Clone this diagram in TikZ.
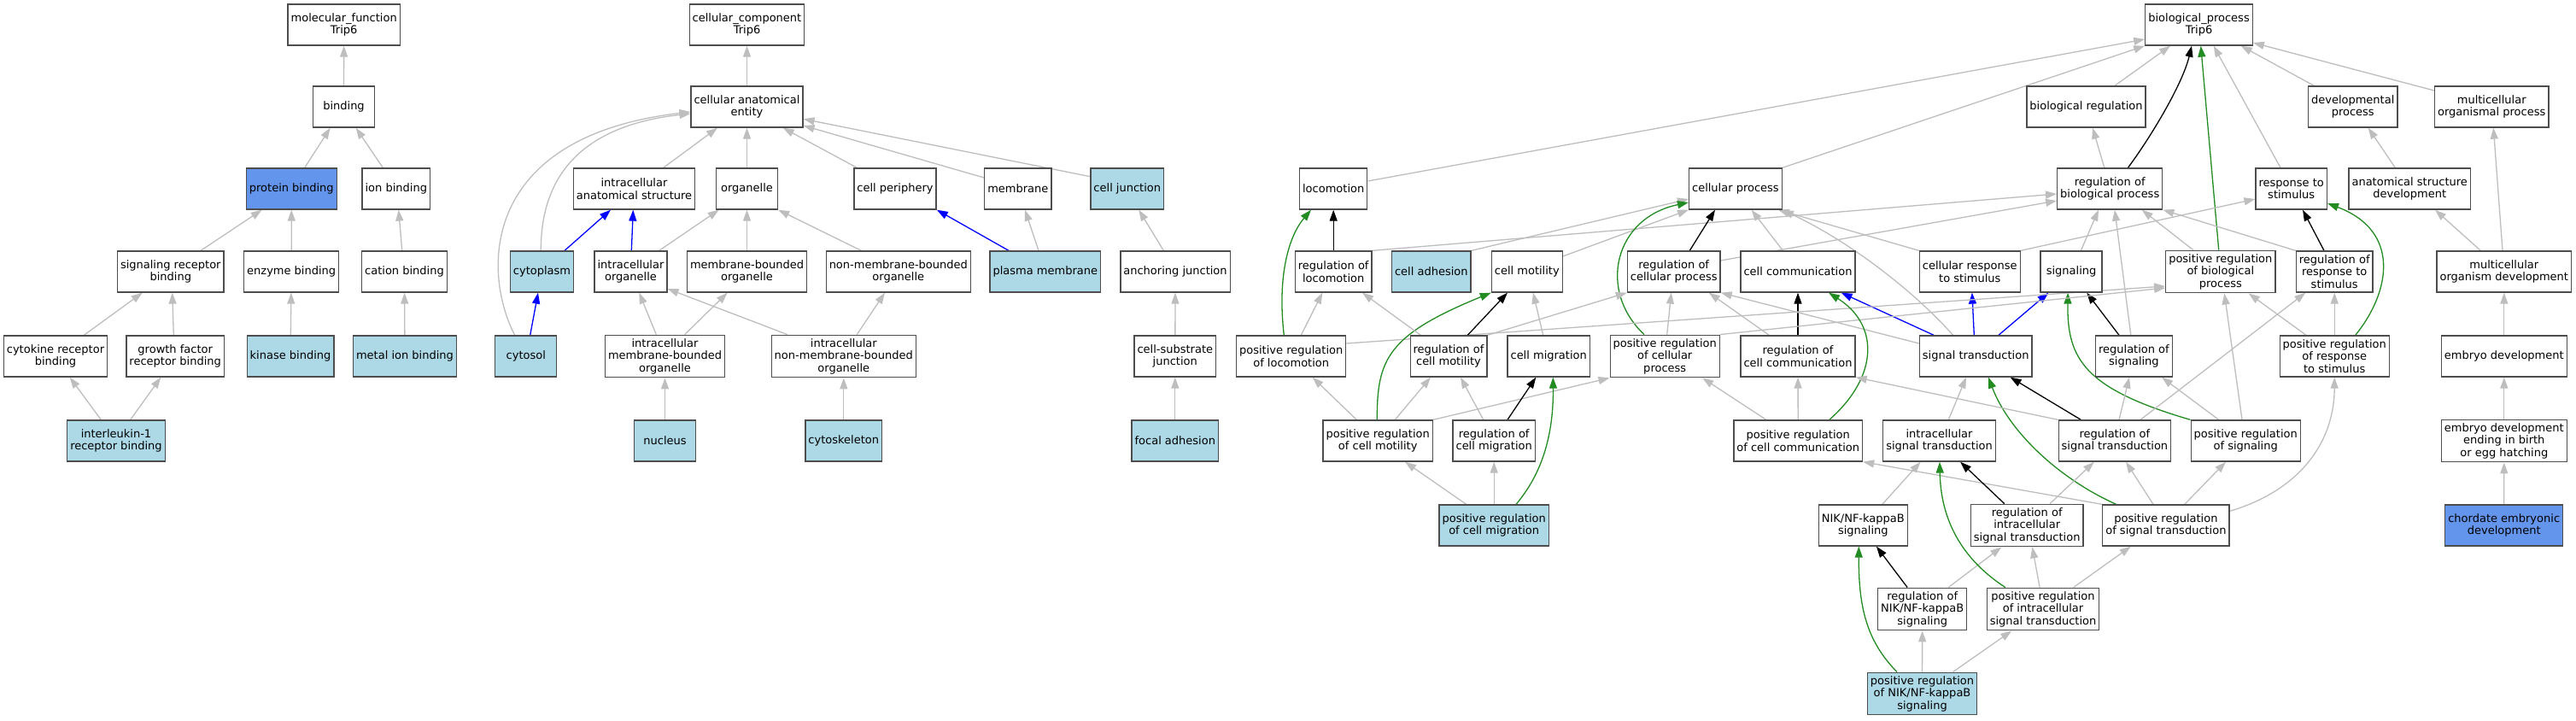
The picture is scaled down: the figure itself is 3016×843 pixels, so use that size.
\documentclass[tikz,border=0pt]{standalone}
\usepackage{fontspec}
\setmainfont{DejaVu Sans}
\usetikzlibrary{arrows.meta,backgrounds}
\definecolor{edgegray}{HTML}{BEBEBE}
\definecolor{boxgray}{HTML}{4D4D4D}
\definecolor{seenblue}{HTML}{ADD8E6}
\definecolor{coreblue}{HTML}{6495ED}
\definecolor{posgreen}{HTML}{228B22}

\begin{document}
\begin{tikzpicture}[x=1pt,y=-1pt,
    term/.style={draw=boxgray,line width=1.3pt,fill=white,align=center,minimum width=72pt,minimum height=48pt,inner xsep=3.5pt,inner ysep=4pt,font=\fontsize{13}{14.5}\selectfont},
    seen/.style={term,fill=seenblue},
    core/.style={term,fill=coreblue},
    isa/.style={draw=edgegray,line width=1.3pt,-{Triangle[length=13pt,width=9pt]}},
    reg/.style={isa,draw=black},
    partof/.style={isa,draw=blue},
    posreg/.style={isa,draw=posgreen}]
    \useasboundingbox (0,0) rectangle (3016,843);

    \node[term] (mf) at (402.7,29) {molecular\_function\\Trip6};
    \node[term] (bind) at (402.5,125) {binding};
    \node[core] (protbind) at (341.3,221) {protein binding};
    \node[term] (ionbind) at (463.8,221) {ion binding};
    \node[term] (sigrecbind) at (199.8,318) {signaling receptor\\binding};
    \node[term] (enzbind) at (341.2,318) {enzyme binding};
    \node[term] (catbind) at (473.5,318) {cation binding};
    \node[term] (cytorecbind) at (65,417) {cytokine receptor\\binding};
    \node[term] (gfrecbind) at (205.2,417) {growth factor\\receptor binding};
    \node[seen] (kinbind) at (340,417) {kinase binding};
    \node[seen] (metalbind) at (474,417) {metal ion binding};
    \node[seen] (il1) at (136,516) {interleukin-1\\receptor binding};

    \node[term] (cc) at (874.5,29) {cellular\_component\\Trip6};
    \node[term] (cae) at (874.5,125) {cellular anatomical\\entity};
    \node[term] (ias) at (742.5,221) {intracellular\\anatomical structure};
    \node[term] (organelle) at (874.5,221) {organelle};
    \node[term] (cellper) at (1048,221) {cell periphery};
    \node[term] (membrane) at (1191.8,221) {membrane};
    \node[seen] (celljunc) at (1319.8,221) {cell junction};
    \node[seen] (cytoplasm) at (634.5,318) {cytoplasm};
    \node[term] (intorg) at (738.5,318) {intracellular\\organelle};
    \node[term] (mbo) at (874.5,318) {membrane-bounded\\organelle};
    \node[term] (nmbo) at (1051.8,318) {non-membrane-bounded\\organelle};
    \node[seen] (plasmamem) at (1223.8,318) {plasma membrane};
    \node[term] (anchjunc) at (1376,318) {anchoring junction};
    \node[seen] (cytosol) at (615.8,417) {cytosol};
    \node[term] (imbo) at (778.5,417) {intracellular\\membrane-bounded\\organelle};
    \node[term] (inmbo) at (987.8,417) {intracellular\\non-membrane-bounded\\organelle};
    \node[term] (cellsub) at (1375.8,417) {cell-substrate\\junction};
    \node[seen] (nucleus) at (778.5,516) {nucleus};
    \node[seen] (cytoskel) at (987.8,516) {cytoskeleton};
    \node[seen] (focal) at (1375.8,516) {focal adhesion};

    \node[term] (bp) at (2574.5,29) {biological\_process\\Trip6};
    \node[term] (bioreg) at (2442.5,125) {biological regulation};
    \node[term] (devproc) at (2754.7,125) {developmental\\process};
    \node[term] (mcop) at (2917.2,125) {multicellular\\organismal process};
    \node[term] (locomotion) at (1561.2,221) {locomotion};
    \node[term] (cellproc) at (2031.9,221) {cellular process};
    \node[term] (rbp) at (2470.2,221) {regulation of\\biological process};
    \node[term] (resp) at (2682.7,221) {response to\\stimulus};
    \node[term] (asd) at (2821.2,221) {anatomical structure\\development};
    \node[term] (regloc) at (1561.2,318) {regulation of\\locomotion};
    \node[seen] (celladh) at (1675.8,318) {cell adhesion};
    \node[term] (cellmot) at (1787.8,318) {cell motility};
    \node[term] (rcp) at (1959.7,318) {regulation of\\cellular process};
    \node[term] (cellcomm) at (2105,318) {cell communication};
    \node[term] (crs) at (2306.3,318) {cellular response\\to stimulus};
    \node[term] (signaling) at (2425.1,318) {signaling};
    \node[term] (prbp) at (2599.8,318) {positive regulation\\of biological\\process};
    \node[term] (rrs) at (2733.2,318) {regulation of\\response to\\stimulus};
    \node[term] (mcod) at (2931.8,318) {multicellular\\organism development};
    \node[term] (prloc) at (1511.7,417) {positive regulation\\of locomotion};
    \node[term] (rcm) at (1696,417) {regulation of\\cell motility};
    \node[term] (cellmig) at (1813.2,417) {cell migration};
    \node[term] (pcp) at (1949.2,417) {positive regulation\\of cellular\\process};
    \node[term] (rcc) at (2105,417) {regulation of\\cell communication};
    \node[term] (st) at (2313.2,417) {signal transduction};
    \node[term] (rsig) at (2498.4,417) {regulation of\\signaling};
    \node[term] (prrs) at (2733.2,417) {positive regulation\\of response\\to stimulus};
    \node[term] (embdev) at (2931.8,417) {embryo development};
    \node[term] (prcm) at (1613.2,516) {positive regulation\\of cell motility};
    \node[term] (rcmig) at (1749.2,516) {regulation of\\cell migration};
    \node[term] (prcc) at (2105.2,516) {positive regulation\\of cell communication};
    \node[term] (ist) at (2270.5,516) {intracellular\\signal transduction};
    \node[term] (rst) at (2475.9,516) {regulation of\\signal transduction};
    \node[term] (prsig) at (2629.2,516) {positive regulation\\of signaling};
    \node[term] (embbirth) at (2931.8,516) {embryo development\\ending in birth\\or egg hatching};
    \node[seen] (prcmig) at (1749.2,615) {positive regulation\\of cell migration};
    \node[term] (nik) at (2181.3,615) {NIK/NF-kappaB\\signaling};
    \node[term] (rist) at (2373.2,615) {regulation of\\intracellular\\signal transduction};
    \node[term] (prst) at (2535.9,615) {positive regulation\\of signal transduction};
    \node[core] (chordate) at (2931.7,615) {chordate embryonic\\development};
    \node[term] (rnik) at (2250.7,713) {regulation of\\NIK/NF-kappaB\\signaling};
    \node[term] (prist) at (2392,713) {positive regulation\\of intracellular\\signal transduction};
    \node[seen] (prnik) at (2250.5,812) {positive regulation\\of NIK/NF-kappaB\\signaling};

    \begin{scope}[on background layer]
    \fill[white] (0,0) rectangle (3016,843);

    \draw[isa] (bind) -- (mf);
    \draw[isa] ([xshift=15.4pt]protbind.north) -- ([xshift=-15.8pt]bind.south);
    \draw[isa] ([xshift=-15.5pt]ionbind.north) -- ([xshift=14.2pt]bind.south);
    \draw[isa] ([xshift=35.2pt]sigrecbind.north) -- ([xshift=-34.6pt]protbind.south);
    \draw[isa] (enzbind) -- (protbind);
    \draw[isa] ([xshift=-2.8pt]catbind.north) -- ([xshift=2.9pt]ionbind.south);
    \draw[isa] ([xshift=33.3pt]cytorecbind.north) -- ([xshift=-33.1pt]sigrecbind.south);
    \draw[isa] ([xshift=-1.9pt]gfrecbind.north) -- ([xshift=1.9pt]sigrecbind.south);
    \draw[isa] (kinbind) -- (enzbind);
    \draw[isa] (metalbind) -- (catbind);
    \draw[isa] ([xshift=-17.7pt]il1.north) -- ([xshift=16.7pt]cytorecbind.south);
    \draw[isa] ([xshift=16.7pt]il1.north) -- ([xshift=-16.9pt]gfrecbind.south);

    \draw[isa] (cae) -- (cc);
    \draw[isa] ([xshift=34.2pt]ias.north) -- ([xshift=-34.5pt]cae.south);
    \draw[isa] (organelle) -- (cae);
    \draw[isa] ([xshift=-44.7pt]cellper.north) -- ([xshift=42.2pt]cae.south);
    \draw[isa] ([yshift=13pt]membrane.west) -- ([yshift=-22pt]cae.east);
    \draw[isa] ([yshift=14.3pt]celljunc.west) -- ([yshift=-14.3pt]cae.east);
    \draw[isa] ([xshift=-1.2pt]cytoplasm.north) .. controls (633,190) and (700,145) .. ([yshift=-8pt]cae.west);
    \draw[isa] ([xshift=-13.1pt]cytosol.north) .. controls (565,320) and (560,160) .. ([yshift=-6pt]cae.west);
    \draw[partof] ([xshift=26.5pt]cytoplasm.north) -- ([xshift=-27.5pt]ias.south);
    \draw[partof] ([xshift=0.8pt]intorg.north) -- ([xshift=-1.2pt]ias.south);
    \draw[isa] ([xshift=33.2pt]intorg.north) -- ([xshift=-32.8pt]organelle.south);
    \draw[isa] (mbo) -- (organelle);
    \draw[isa] ([xshift=-43.5pt]nmbo.north) -- (organelle.south east);
    \draw[partof] ([xshift=4.9pt]cytosol.north) -- ([xshift=-4.5pt]cytoplasm.south);
    \draw[isa] ([xshift=-10.2pt]imbo.north) -- ([xshift=9.8pt]intorg.south);
    \draw[isa] ([xshift=23.2pt]imbo.north) -- ([xshift=-22.8pt]mbo.south);
    \draw[isa] ([xshift=-66.1pt]inmbo.north) -- ([yshift=-20pt]intorg.east);
    \draw[isa] ([xshift=15.5pt]inmbo.north) -- ([xshift=-15.8pt]nmbo.south);
    \draw[isa] (nucleus) -- (imbo);
    \draw[isa] (cytoskel) -- (inmbo);
    \draw[partof] ([xshift=-42.8pt]plasmamem.north) -- (cellper.south east);
    \draw[isa] ([xshift=-7.8pt]plasmamem.north) -- ([xshift=8.2pt]membrane.south);
    \draw[isa] ([xshift=-13.7pt]anchjunc.north) -- ([xshift=13.5pt]celljunc.south);
    \draw[isa] (cellsub) -- (anchjunc);
    \draw[isa] (focal) -- (cellsub);

    \draw[isa] ([yshift=9pt]locomotion.east) -- ([yshift=-17pt]bp.west);
    \draw[isa] (cellproc.north east) -- (bp.south west);
    \draw[isa] ([xshift=33.4pt]bioreg.north) -- ([xshift=-33.5pt]bp.south);
    \draw[reg] ([xshift=21.2pt]rbp.north) .. controls (2515,165) and (2555,100) .. ([xshift=-8.5pt]bp.south);
    \draw[posreg] ([xshift=-2.1pt]prbp.north) -- ([xshift=2.2pt]bp.south);
    \draw[isa] ([xshift=-12.7pt]resp.north) -- ([xshift=17.2pt]bp.south);
    \draw[isa] ([xshift=-45.4pt]devproc.north) -- ([xshift=49.2pt]bp.south);
    \draw[isa] ([yshift=19pt]mcop.west) -- ([yshift=-21pt]bp.east);
    \draw[isa] ([xshift=-6.4pt]rbp.north) -- ([xshift=7.5pt]bioreg.south);
    \draw[reg] (regloc) -- (locomotion);
    \draw[posreg] ([xshift=-8.4pt]prloc.north) .. controls (1495,320) and (1510,275) .. ([xshift=-26.2pt]locomotion.south);
    \draw[isa] ([xshift=11.6pt]prloc.north) -- ([xshift=-12.9pt]regloc.south);
    \draw[isa] (regloc.north east) -- ([yshift=-6pt]rbp.west);
    \draw[isa] (celladh.north east) -- ([yshift=-12pt]cellproc.west);
    \draw[isa] ([yshift=18pt]cellmot.east) -- (cellproc.south west);
    \draw[posreg] ([xshift=-24.2pt]pcp.north) .. controls (1870,340) and (1890,255) .. ([yshift=-16pt]cellproc.west);
    \draw[reg] ([xshift=18.6pt]rcp.north) -- ([xshift=-23.9pt]cellproc.south);
    \draw[isa] ([yshift=13pt]rcp.east) -- ([yshift=-14pt]rbp.west);
    \draw[isa] ([xshift=-17.6pt]cellcomm.north) -- ([xshift=18.7pt]cellproc.south);
    \draw[isa] ([xshift=-26.7pt]st.north) .. controls (2245,345) and (2170,285) .. (cellproc.south east);
    \draw[isa] (crs.north west) -- ([xshift=-5pt]cellproc.south east);
    \draw[isa] (crs.north east) -- ([yshift=-12pt]resp.west);
    \draw[isa] ([xshift=11.2pt]signaling.north) -- ([xshift=-13.2pt]rbp.south);
    \draw[isa] ([xshift=-3.6pt]rsig.north) -- ([xshift=5.7pt]rbp.south);
    \draw[isa] ([xshift=-32.1pt]prbp.north) -- ([xshift=37.5pt]rbp.south);
    \draw[isa] (rrs.north west) -- (rbp.south east);
    \draw[reg] (rcc) -- (cellcomm);
    \draw[isa] ([xshift=-33.7pt]rcc.north) -- ([xshift=41pt]rcp.south);
    \draw[isa] ([yshift=15pt]st.west) -- (rcp.south east);
    \draw[partof] ([xshift=-49.1pt]st.north) -- ([xshift=50.6pt]cellcomm.south);
    \draw[partof] ([xshift=-1.9pt]st.north) -- ([xshift=2.6pt]crs.south);
    \draw[partof] ([xshift=26.7pt]st.north) -- ([xshift=-26.7pt]signaling.south);
    \draw[reg] ([xshift=-17.4pt]rsig.north) -- ([xshift=18.1pt]signaling.south);
    \draw[posreg] (prsig.north west) .. controls (2440,455) and (2420,420) .. ([xshift=-4pt]signaling.south);
    \draw[isa] ([xshift=2.5pt]pcp.north) -- ([xshift=-3pt]rcp.south);
    \draw[isa] (pcp.north east) -- ([yshift=-19pt]prbp.west);
    \draw[isa] ([yshift=15pt]prloc.east) -- ([yshift=-17pt]prbp.west);
    \draw[reg] ([xshift=22.3pt]rcm.north) -- ([xshift=-22.8pt]cellmot.south);
    \draw[posreg] ([xshift=-0.9pt]prcm.north) .. controls (1612,420) and (1625,392) .. (cellmot.south west);
    \draw[isa] ([xshift=-6.5pt]cellmig.north) -- ([xshift=7.2pt]cellmot.south);
    \draw[isa] ([xshift=-32.7pt]rcm.north) -- ([xshift=33.8pt]regloc.south);
    \draw[isa] (rcm.north east) -- (rcp.south west);
    \draw[isa] ([xshift=-24.9pt]prcm.north) -- ([xshift=25pt]prloc.south);
    \draw[isa] ([xshift=20.1pt]prcm.north) -- ([xshift=-21pt]rcm.south);
    \draw[isa] (prcm.north east) -- (pcp.south west);
    \draw[reg] ([xshift=15.8pt]rcmig.north) -- ([xshift=-14.9pt]cellmig.south);
    \draw[isa] ([xshift=-12.5pt]rcmig.north) -- ([xshift=14pt]rcm.south);
    \draw[isa] ([xshift=-32.5pt]prcmig.north) -- ([xshift=31.8pt]prcm.south);
    \draw[isa] (prcmig) -- (rcmig);
    \draw[posreg] ([xshift=25.8pt]prcmig.north) .. controls (1805,555) and (1819,510) .. ([xshift=5.1pt]cellmig.south);
    \draw[isa] (prcc) -- (rcc);
    \draw[posreg] ([xshift=36.6pt]prcc.north) .. controls (2200,440) and (2200,380) .. ([xshift=36pt]cellcomm.south);
    \draw[isa] ([xshift=-37.4pt]prcc.north) -- ([xshift=44pt]pcp.south);
    \draw[isa] ([xshift=10.8pt]ist.north) -- ([xshift=-11.2pt]st.south);
    \draw[posreg] ([xshift=-58.3pt]prst.north) .. controls (2410,560) and (2352,505) .. ([xshift=14.8pt]st.south);
    \draw[reg] ([xshift=-39.6pt]rst.north) -- ([xshift=40.4pt]st.south);
    \draw[isa] (rst.north west) -- (rcc.south east);
    \draw[isa] ([xshift=5.1pt]rst.north) -- ([xshift=-5.4pt]rsig.south);
    \draw[isa] ([xshift=30.1pt]rst.north) -- ([xshift=-33.9pt]rrs.south);
    \draw[isa] ([xshift=-31.5pt]prsig.north) -- ([xshift=32.6pt]rsig.south);
    \draw[isa] ([xshift=-4.2pt]prsig.north) -- ([xshift=4.5pt]prbp.south);
    \draw[posreg] ([xshift=24.5pt]prrs.north) .. controls (2800,340) and (2810,270) .. ([yshift=-17pt]resp.east);
    \draw[isa] (prrs) -- (rrs);
    \draw[isa] ([xshift=-33.2pt]prrs.north) -- ([xshift=32.9pt]prbp.south);
    \draw[reg] ([xshift=-12.2pt]rrs.north) -- ([xshift=13.3pt]resp.south);
    \draw[isa] ([xshift=-14.9pt]prst.north) -- ([xshift=13.1pt]rst.south);
    \draw[isa] ([xshift=21.8pt]prst.north) -- ([xshift=-23.2pt]prsig.south);
    \draw[isa] ([yshift=16.7pt]prst.east) .. controls (2690,575) and (2733,520) .. (prrs.south);
    \draw[isa] (prst.north west) -- (prcc.south east);
    \draw[reg] ([xshift=-26.5pt]rist.north) -- ([xshift=24.6pt]ist.south);
    \draw[isa] ([xshift=26.9pt]rist.north) -- ([xshift=-24.1pt]rst.south);
    \draw[isa] ([xshift=22.5pt]nik.north) -- ([xshift=-21.9pt]ist.south);
    \draw[reg] ([xshift=-17.6pt]rnik.north) -- ([xshift=15.6pt]nik.south);
    \draw[isa] ([xshift=30.6pt]rnik.north) -- ([xshift=-29.9pt]rist.south);
    \draw[isa] ([xshift=-3.9pt]prist.north) -- ([xshift=6.2pt]rist.south);
    \draw[isa] ([xshift=35.7pt]prist.north) -- ([xshift=-41.1pt]prst.south);
    \draw[posreg] ([xshift=-44.2pt]prist.north) .. controls (2290,650) and (2272,600) .. ([xshift=0.5pt]ist.south);
    \draw[posreg] ([xshift=-29.5pt]prnik.north) .. controls (2185,750) and (2176,710) .. ([xshift=-5pt]nik.south);
    \draw[isa] (prnik) -- (rnik);
    \draw[isa] ([xshift=36pt]prnik.north) -- ([xshift=-36.7pt]prist.south);
    \draw[isa] ([xshift=-16.9pt]asd.north) -- ([xshift=18pt]devproc.south);
    \draw[isa] ([xshift=-27.5pt]mcod.north) -- ([xshift=29.8pt]asd.south);
    \draw[isa] ([xshift=-1.8pt]mcod.north) -- ([xshift=2.1pt]mcop.south);
    \draw[isa] (embdev) -- (mcod);
    \draw[isa] (embbirth) -- (embdev);
    \draw[isa] (chordate) -- (embbirth);
    \end{scope}
  \end{tikzpicture}
\end{document}
